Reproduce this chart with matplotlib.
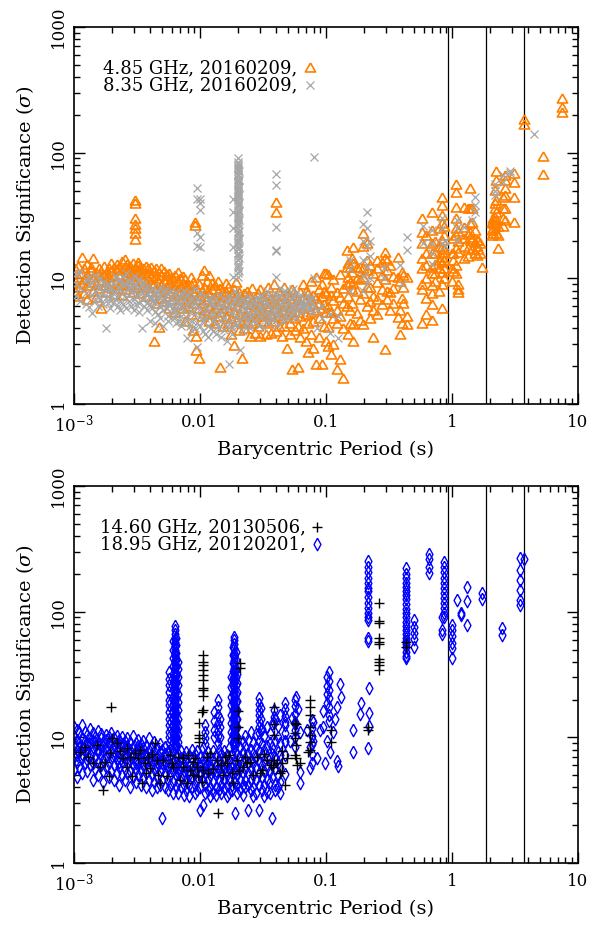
import matplotlib
matplotlib.use("Agg")
import matplotlib.pyplot as plt
from matplotlib.ticker import NullFormatter, LogLocator

plt.rcParams["font.family"] = "DejaVu Serif"
plt.rcParams["mathtext.fontset"] = "dejavuserif"
plt.rcParams["axes.linewidth"] = 1.2

# 磁星の自転周期とその高調波 (s)
HARMONICS = [0.94, 1.88, 3.76]

# ---------------------------------------------------------------
# 4.85 GHz, 20160209 : (周期 s, [検出有意度 sigma, ...])
# ---------------------------------------------------------------
C485_BAND = [
    (0.00102, [9.5, 12.0, 8.0]), (0.00108, [10.3, 8.6, 12.5, 7.2]),
    (0.00115, [11.0, 14.9, 9.2]), (0.00120, [9.8, 12.2, 7.6]),
    (0.00128, [10.8, 6.9, 8.9, 13.0]), (0.00136, [9.4, 11.6, 12.4]),
    (0.00142, [14.5, 10.2, 8.0]), (0.00150, [9.0, 11.2, 7.1]),
    (0.00158, [10.6, 12.0, 8.4]), (0.00165, [5.8, 9.6, 11.5]),
    (0.00172, [10.6, 8.8, 12.6]), (0.00180, [9.4, 11.0, 7.8]),
    (0.00190, [12.0, 10.2, 8.6]), (0.00198, [9.2, 11.4, 13.2]),
    (0.00208, [10.6, 12.4, 8.4, 7.5]), (0.00218, [11.8, 9.6, 13.0]),
    (0.00228, [10.4, 12.2, 8.8]), (0.00240, [11.6, 9.2, 13.8, 7.4]),
    (0.00252, [12.4, 10.0, 8.2, 14.2]), (0.00265, [11.2, 13.0, 9.4, 12.0]),
    (0.00278, [10.4, 12.6, 8.8, 11.6]), (0.00292, [13.2, 11.0, 9.8, 7.8]),
    (0.00305, [12.2, 10.6, 9.0, 11.8]), (0.00320, [10.8, 12.8, 8.6, 13.4]),
    (0.00336, [11.4, 9.6, 12.4, 7.6]), (0.00352, [10.2, 12.0, 8.8, 11.0]),
    (0.00370, [12.6, 9.4, 10.8, 7.2]), (0.00388, [11.0, 8.6, 12.2, 9.8]),
    (0.00407, [10.4, 12.4, 8.0, 9.2]), (0.00428, [11.6, 9.0, 3.2, 7.4]),
    (0.00449, [10.0, 12.0, 8.4, 6.4]), (0.00471, [9.4, 11.2, 7.8, 4.1]),
    (0.00495, [10.6, 8.8, 12.2, 7.0]), (0.00520, [9.6, 11.4, 8.2, 6.6]),
    (0.00546, [10.8, 8.6, 7.2, 9.8]), (0.00573, [9.2, 11.0, 7.6, 5.8]),
    (0.00602, [10.2, 8.4, 6.8, 9.0]), (0.00632, [8.8, 10.6, 7.4, 5.4]),
    (0.00664, [9.6, 8.0, 11.2, 6.2]), (0.00697, [8.6, 10.0, 6.8, 7.6]),
    (0.00732, [9.2, 7.4, 5.8, 10.4]), (0.00768, [8.2, 9.8, 6.6, 4.6]),
    (0.00806, [7.6, 9.0, 6.0, 8.4]), (0.00846, [8.8, 7.0, 10.2, 5.2]),
    (0.00888, [7.8, 9.4, 6.4, 3.9]), (0.00932, [8.4, 6.8, 2.69, 3.5]),
    (0.00978, [7.4, 9.0, 5.8, 2.31]), (0.0103, [8.0, 6.4, 10.6, 5.0]),
    (0.0108, [7.2, 8.6, 5.6, 11.6]), (0.0113, [9.6, 6.8, 5.2, 7.8]),
    (0.0119, [7.6, 10.6, 6.0, 4.6]), (0.0125, [8.2, 6.6, 9.2, 5.4]),
    (0.0131, [7.0, 8.8, 5.8, 4.4]), (0.0138, [7.8, 6.2, 9.6, 5.0]),
    (0.0145, [6.6, 8.4, 5.4, 1.96]), (0.0152, [7.4, 5.8, 8.0, 4.2]),
    (0.0160, [6.4, 7.8, 5.0, 9.2]), (0.0168, [7.0, 5.6, 8.6, 4.4]),
    (0.0176, [6.2, 7.6, 4.8, 3.6]), (0.0185, [6.8, 5.4, 2.95, 8.2]),
    (0.0194, [6.0, 7.2, 4.6, 9.4]), (0.0204, [6.6, 5.2, 7.8, 3.9]),
    (0.0214, [5.8, 7.0, 4.4, 2.31]), (0.0225, [6.4, 5.0, 7.6, 4.0]),
    (0.0236, [5.6, 6.8, 4.6, 8.0]), (0.0248, [6.2, 5.2, 7.2, 3.5]),
    (0.0260, [5.4, 6.6, 4.4, 8.4]), (0.0273, [6.0, 5.0, 7.0, 3.7]),
    (0.0287, [5.6, 6.4, 4.2, 7.6]), (0.0301, [6.2, 5.2, 3.5, 8.2]),
    (0.0316, [5.4, 6.8, 4.6, 7.2]), (0.0332, [6.0, 5.0, 3.6, 6.6]),
    (0.0349, [5.6, 7.4, 4.4, 8.6]), (0.0366, [6.4, 5.2, 3.7, 7.0]),
    (0.0385, [5.8, 6.8, 4.6, 9.0]), (0.0404, [6.2, 5.0, 7.4, 3.8]),
    (0.0424, [5.4, 6.6, 4.2, 8.0]), (0.0445, [6.0, 7.2, 4.8, 3.5]),
    (0.0467, [5.6, 6.4, 8.6, 4.2]), (0.0491, [6.4, 5.2, 2.77, 7.4]),
    (0.0515, [5.8, 7.0, 4.4, 3.6]), (0.0541, [6.6, 5.4, 8.2, 1.9]),
    (0.0568, [6.0, 7.4, 4.8, 3.9]), (0.0596, [5.4, 6.8, 1.96, 4.2]),
    (0.0626, [6.2, 7.8, 5.0, 3.4]), (0.0657, [5.8, 7.0, 4.0, 9.0]),
    (0.0690, [6.6, 5.2, 3.2, 8.0]), (0.0724, [6.0, 7.6, 4.4, 2.6]),
    (0.0760, [6.8, 5.4, 9.6, 3.6]), (0.0798, [6.2, 7.4, 4.6, 2.8]),
    (0.0838, [7.0, 5.6, 10.2, 2.1]), (0.0880, [6.4, 8.2, 4.8, 3.4]),
    (0.0924, [7.2, 5.8, 2.1, 9.0]), (0.0970, [8.0, 6.2, 4.2, 11.0]),
    (0.1006, [7.7, 11.0, 5.4, 3.2]),
]
C485_HIGH = [
    (0.00307, [42.0, 40.0, 30.0, 27.0, 25.0, 23.0, 20.5]),
    (0.00914, [28.2, 26.5]), (0.040, [40.2, 33.6]),
    (0.104, [10.9, 6.0, 4.1, 2.9]), (0.110, [7.4, 5.4, 2.5, 8.6]),
    (0.115, [6.7, 4.8, 3.0, 9.8]), (0.122, [5.6, 7.8, 1.9, 4.4]),
    (0.130, [10.9, 7.1, 5.0, 2.3]), (0.138, [6.4, 8.4, 4.0, 1.62]),
    (0.1466, [16.8, 12.4, 9.0, 6.0]), (0.151, [13.2, 10.3, 7.2, 3.6]),
    (0.156, [12.4, 9.4, 5.6, 4.4]), (0.160, [14.4, 11.2, 8.2, 6.4]),
    (0.1655, [17.9, 13.2, 9.2, 4.3, 3.2]), (0.176, [12.4, 10.0, 8.0, 5.3]),
    (0.187, [12.4, 9.8, 6.8, 4.66]), (0.199, [22.8, 18.0, 12.0, 10.2, 7.6, 4.3]),
    (0.211, [19.0, 14.0, 11.6, 8.6, 6.0]), (0.224, [12.8, 8.6, 6.6, 4.8]),
    (0.239, [11.0, 7.3, 5.6, 3.4]), (0.254, [14.0, 12.0, 9.4, 6.8, 5.2]),
    (0.278, [13.6, 10.6, 8.2, 6.2]), (0.295, [16.3, 14.4, 9.8, 2.72]),
    (0.304, [14.0, 11.6, 8.0, 6.9]), (0.323, [12.8, 7.8, 5.6]),
    (0.344, [10.4, 8.4, 6.4]), (0.376, [14.9, 10.2, 4.9]),
    (0.388, [9.6, 5.6, 3.6]), (0.400, [11.3, 7.0, 4.4]),
    (0.413, [10.6, 8.6, 6.4]), (0.439, [10.3, 4.3, 5.0]),
    (0.58, [30.0, 23.5, 19.0, 14.4, 12.0, 9.1, 8.3, 4.4]),
    (0.62, [22.0, 16.0, 12.8, 10.0, 7.0, 5.2]),
    (0.70, [33.9, 24.2, 19.0, 15.8, 12.4, 10.95, 8.85, 7.6, 6.3, 4.7]),
    (0.74, [20.0, 16.0, 13.0, 11.0, 9.5]), (0.79, [25.0, 18.0, 14.0, 12.0, 8.0]),
    (0.832, [44.6, 38.3, 31.9, 27.4, 20.2, 17.9, 16.3, 14.9, 13.6, 11.3, 9.1, 5.8]),
    (0.86, [26.0, 22.0, 17.0, 14.0, 12.0, 10.0]),
    (1.0, [16.0, 12.0, 9.5]), (1.03, [20.8, 16.0, 14.0, 11.5]),
    (1.075, [56.0, 48.9, 37.2, 30.0, 25.0, 22.1, 17.3, 12.8, 10.95]),
    (1.13, [24.0, 20.0, 16.3, 9.1, 8.3, 7.8]), (1.24, [37.2, 25.8, 21.0, 18.0, 14.5]),
    (1.355, [36.0, 22.4, 17.3, 15.0]), (1.397, [52.0, 36.0, 27.4, 23.5, 21.4]),
    (1.44, [36.0, 28.0, 20.5, 17.0]), (1.53, [24.2, 19.5, 16.0]),
    (1.578, [20.2, 18.0, 15.3]), (1.628, [20.2, 17.0]), (1.678, [19.0, 16.0]),
    (1.73, [12.4]),
    (2.08, [28.2, 24.2, 22.0]), (2.14, [30.0, 27.4, 25.0, 23.0]),
    (2.21, [50.4, 40.0, 36.0, 31.0, 27.0]), (2.25, [71.8, 60.5, 42.0, 33.9, 29.1, 23.0]),
    (2.35, [26.0, 22.0, 17.3]), (2.57, [44.6, 36.0, 30.0, 26.0]),
    (2.65, [66.4, 60.5, 52.0, 46.0, 36.0, 29.1]), (3.1, [68.4, 58.7, 44.6, 28.2]),
    (3.77, [184.0, 168.0]), (5.28, [94.5, 68.0]), (7.48, [270.0, 231.0, 211.0]),
]

# ---------------------------------------------------------------
# 8.35 GHz, 20160209
# ---------------------------------------------------------------
C835_BAND = [
    (0.00104, [9.0, 7.2, 10.8]), (0.00112, [8.4, 11.2, 6.6]),
    (0.00124, [7.6, 9.8, 6.2]), (0.00132, [8.8, 5.9, 10.2]),
    (0.00139, [5.26, 7.4, 9.2]), (0.00147, [8.0, 6.6, 10.6]),
    (0.00155, [7.2, 9.0, 6.0]), (0.00162, [8.4, 6.8, 10.0]),
    (0.00170, [7.6, 6.2, 9.4]), (0.00178, [8.6, 4.0, 7.0]),
    (0.00185, [6.4, 9.0, 7.8]), (0.00194, [7.0, 8.4, 5.8]),
    (0.00203, [9.2, 7.6, 6.4]), (0.00212, [8.0, 6.8, 10.4]),
    (0.00222, [7.4, 9.6, 6.0, 8.6]), (0.00234, [8.2, 6.6, 9.8, 5.6]),
    (0.00246, [7.6, 10.2, 6.2, 8.8]), (0.00258, [9.0, 7.0, 5.8, 11.0]),
    (0.00271, [8.4, 6.6, 9.6, 7.4]), (0.00286, [7.8, 9.4, 6.0, 8.6]),
    (0.00298, [8.8, 6.8, 10.4, 5.6]), (0.00313, [7.2, 9.0, 6.2, 8.0]),
    (0.00329, [8.4, 6.4, 9.8, 5.4]), (0.00345, [7.6, 4.0, 8.8, 6.8]),
    (0.00362, [8.2, 6.0, 9.4, 7.0]), (0.00380, [7.4, 5.6, 8.6, 6.4]),
    (0.00398, [8.0, 6.2, 4.6, 7.2]), (0.00418, [7.0, 5.8, 8.4, 6.6]),
    (0.00439, [7.6, 5.4, 6.4, 4.4]), (0.00461, [6.8, 8.0, 5.2, 7.2]),
    (0.00484, [7.4, 6.0, 4.8, 8.6]), (0.00508, [6.6, 7.8, 5.6, 4.2]),
    (0.00533, [7.2, 5.8, 6.4, 8.2]), (0.00560, [6.4, 7.6, 5.0, 4.6]),
    (0.00588, [7.0, 5.4, 6.2, 8.0]), (0.00617, [6.0, 7.4, 4.8, 5.6]),
    (0.00648, [6.6, 5.2, 7.8, 4.4]), (0.00680, [5.8, 7.0, 4.6, 6.2]),
    (0.00714, [6.4, 5.0, 7.6, 4.2]), (0.00750, [5.6, 6.8, 4.4, 8.0]),
    (0.00787, [6.2, 4.8, 3.33, 7.2]), (0.00827, [5.4, 6.6, 4.2, 7.8]),
    (0.00868, [6.0, 4.6, 7.0, 3.8]), (0.00911, [5.2, 6.4, 4.0, 8.2]),
    (0.00956, [5.8, 4.4, 2.85, 6.8]), (0.0100, [6.6, 5.0, 4.2, 7.6]),
    (0.0105, [5.4, 6.2, 3.8, 4.6]), (0.0110, [6.0, 4.8, 7.2, 3.6]),
    (0.0116, [5.6, 6.8, 4.2, 3.4]), (0.0122, [6.2, 5.0, 4.0, 7.0]),
    (0.0128, [5.2, 6.4, 3.8, 4.6]), (0.0134, [5.8, 4.4, 6.8, 3.6]),
    (0.0141, [6.4, 5.2, 4.0, 7.4]), (0.0148, [5.4, 6.0, 3.4, 4.6]),
    (0.0155, [6.2, 4.8, 7.0, 3.9]), (0.0163, [5.6, 6.6, 4.2, 3.2]),
    (0.0171, [6.0, 4.6, 2.1, 7.2]), (0.0180, [5.2, 6.4, 4.0, 3.6]),
    (0.0189, [5.8, 4.4, 6.8, 8.0]), (0.0198, [6.2, 5.0, 7.4, 4.2]),
    (0.0208, [5.4, 2.7, 6.6, 4.6]), (0.0218, [6.0, 4.8, 7.0, 3.8]),
    (0.0229, [5.6, 6.4, 4.2, 5.0]), (0.0240, [6.2, 4.6, 7.2, 5.4]),
    (0.0252, [5.0, 6.0, 4.0, 6.8]), (0.0265, [5.8, 4.6, 6.6, 5.2]),
    (0.0278, [5.4, 6.4, 4.4, 7.0]), (0.0292, [6.0, 5.0, 4.2, 6.8]),
    (0.0307, [5.6, 6.6, 4.8, 7.4]), (0.0322, [6.2, 5.2, 4.0, 7.0]),
    (0.0338, [5.4, 6.4, 4.6, 8.0]), (0.0355, [6.0, 5.0, 7.2, 4.4]),
    (0.0373, [5.6, 6.8, 4.8]), (0.0392, [6.4, 5.4, 7.6, 4.6]),
    (0.0411, [5.8, 7.0, 5.0, 4.2]), (0.0432, [6.2, 5.2, 7.4, 8.4]),
    (0.0454, [5.6, 6.6, 4.6, 7.8]), (0.0476, [6.0, 5.0, 7.0, 8.0]),
    (0.0500, [5.4, 6.4, 7.4, 4.8]), (0.0525, [6.8, 5.8, 7.8, 5.0]),
    (0.0551, [6.0, 7.2, 5.4, 8.2]), (0.0579, [6.6, 5.6, 7.6, 4.8]),
    (0.0608, [5.8, 7.0, 6.2]), (0.0638, [6.4, 5.4, 7.4]),
    (0.0670, [7.0, 5.8, 6.2]), (0.0704, [6.2, 5.6, 7.4]),
    (0.0739, [5.8, 6.8]), (0.0776, [6.4, 5.4, 7.0]),
    (0.0850, [5.6, 4.0]), (0.0940, [6.0, 4.8]),
    (0.108, [5.2, 3.7]), (0.125, [3.33, 5.0]),
]
C835_HIGH = [
    (0.0094, [52.0, 43.0, 22.9, 18.0]),
    (0.0100, [43.0, 39.5, 34.8, 21.4, 17.8]),
    (0.0183, [43.0, 33.9, 25.0, 17.8, 10.3]),
    (0.0199, [78.0, 66.0, 58.0, 50.0, 44.0, 38.0, 32.0, 27.0, 23.0, 19.0, 15.5, 12.5]),
    (0.0202, [90.0, 85.0, 81.0, 77.0, 74.0, 71.0, 68.0, 65.0, 62.0, 59.0,
              56.0, 54.0, 51.0, 49.0, 47.0, 45.0, 43.0, 41.0, 39.0, 37.0,
              35.0, 33.0, 31.0, 29.5, 28.0, 26.5, 25.0, 23.5, 22.0, 21.0,
              20.0, 19.0, 18.0, 17.0, 16.0, 15.0, 14.0, 13.0, 12.0, 11.0, 10.3]),
    (0.0205, [72.0, 61.0, 53.0, 46.0, 40.0, 34.5, 29.0, 24.0, 20.5, 17.5, 14.5, 11.5]),
    (0.040, [68.0, 55.0, 25.4, 16.8, 16.5, 10.3]),
    (0.0805, [93.0, 10.1, 6.0]),
    (0.155, [11.8, 14.0, 8.0]), (0.199, [27.3, 20.0, 14.0, 10.5, 8.0]),
    (0.211, [33.9, 25.0, 18.0, 12.4, 9.0]), (0.224, [20.0, 15.0, 10.0]),
    (0.29, [12.0, 10.0]), (0.39, [12.8]), (0.40, [9.0]),
    (0.444, [21.4, 16.8]), (0.59, [26.0, 19.0]),
    (0.694, [24.2, 19.0, 15.8, 13.0]), (0.84, [30.0, 25.0, 19.0]),
    (0.88, [20.0, 18.0]), (1.1, [29.1, 25.0, 20.2]), (1.24, [25.8]),
    (1.44, [29.1]), (1.53, [44.6, 38.3, 34.0]), (2.21, [56.0, 50.0, 46.0]),
    (2.57, [66.4, 58.0]), (2.9, [71.8, 68.4]), (4.53, [141.0]),
]

# ---------------------------------------------------------------
# 18.95 GHz, 20120201
# ---------------------------------------------------------------
C1895_BAND = [
    (0.00100, [7.0, 8.8, 10.2, 5.6, 12.0]), (0.00105, [6.4, 8.0, 9.6, 11.4, 7.2, 4.8]),
    (0.00110, [7.6, 9.0, 10.8, 5.8, 8.4]), (0.00116, [6.8, 8.2, 9.8, 12.6, 5.2, 7.4]),
    (0.00122, [7.8, 9.4, 11.0, 6.2, 8.6]), (0.00128, [6.6, 8.0, 10.4, 5.4, 9.0, 7.2]),
    (0.00134, [7.4, 8.8, 11.6, 6.0, 9.8]), (0.00141, [6.2, 7.8, 9.4, 10.8, 4.6, 8.4]),
    (0.00148, [7.0, 8.6, 10.0, 5.6, 9.2]), (0.00155, [6.4, 7.6, 9.0, 11.2, 5.0, 8.0]),
    (0.00163, [7.2, 8.4, 9.8, 6.0, 10.6]), (0.00171, [6.6, 7.8, 9.2, 4.4, 8.6, 5.4]),
    (0.00180, [7.0, 8.2, 9.6, 5.8, 10.4]), (0.00189, [6.2, 7.4, 8.8, 10.0, 4.8, 9.2]),
    (0.00198, [6.8, 8.0, 9.4, 5.4, 10.8]), (0.00208, [6.0, 7.2, 8.6, 9.8, 4.6, 7.8]),
    (0.00218, [6.6, 7.8, 9.0, 5.2, 10.2]), (0.00229, [5.8, 7.0, 8.4, 9.6, 4.2, 6.4]),
    (0.00241, [6.4, 7.6, 8.8, 5.0, 10.0]), (0.00253, [5.6, 6.8, 8.2, 9.4, 4.6, 7.4]),
    (0.00266, [6.2, 7.4, 8.6, 5.2, 9.8]), (0.00279, [5.4, 6.6, 8.0, 9.2, 4.0, 7.2]),
    (0.00293, [6.0, 7.2, 8.4, 4.8, 10.2]), (0.00308, [5.6, 6.6, 7.8, 9.0, 4.4, 6.2]),
    (0.00323, [6.2, 7.4, 8.6, 5.0, 9.6]), (0.00339, [5.4, 6.4, 7.6, 8.8, 4.2, 7.0]),
    (0.00356, [6.0, 7.0, 8.2, 4.8, 9.4]), (0.00374, [5.2, 6.2, 7.4, 8.6, 4.0, 6.8]),
    (0.00393, [5.8, 6.8, 8.0, 4.6, 9.8]), (0.00413, [5.0, 6.0, 7.2, 8.4, 3.8, 6.6]),
    (0.00434, [5.6, 6.6, 7.8, 4.4, 9.2]), (0.00456, [4.8, 5.8, 7.0, 8.2, 4.0, 6.4]),
    (0.00479, [5.4, 6.4, 7.6, 4.2, 8.8]), (0.00503, [4.6, 5.6, 6.8, 8.0, 2.3, 6.2]),
    (0.00528, [5.2, 6.2, 7.4, 4.0, 8.4]), (0.00555, [4.6, 5.6, 6.6, 7.8, 3.8, 6.0]),
    (0.00583, [5.0, 6.0, 7.2, 4.2, 8.0]), (0.00612, [4.4, 5.4, 6.4, 7.6, 3.6]),
    (0.00643, [5.0, 5.8, 7.0, 4.0, 6.2]), (0.00675, [4.4, 5.2, 6.2, 7.4, 3.6, 5.6]),
    (0.00709, [4.8, 5.8, 6.8, 4.0, 7.8]), (0.00745, [4.2, 5.0, 6.0, 7.0, 3.5, 5.4]),
    (0.00782, [4.6, 5.6, 6.6, 3.8, 7.6]), (0.00822, [4.2, 5.0, 6.0, 7.2, 3.4, 5.4]),
    (0.00863, [4.8, 5.8, 6.8, 4.0, 8.0]), (0.00906, [4.2, 5.2, 6.2, 7.4, 3.6, 5.6]),
    (0.00952, [4.6, 5.6, 6.6, 3.8, 7.8]), (0.0100, [4.0, 5.0, 6.0, 7.0, 2.64, 5.4]),
    (0.0105, [4.6, 5.6, 6.6, 2.9, 8.2]), (0.0110, [4.2, 5.2, 6.2, 7.2, 3.6, 5.8]),
    (0.0116, [4.6, 5.4, 6.4, 3.8, 7.6]), (0.0121, [4.0, 5.0, 6.0, 7.0, 3.4, 5.6]),
    (0.0127, [4.4, 5.4, 6.6, 3.7, 7.8]), (0.0134, [4.0, 5.0, 6.0, 7.2, 3.5, 5.4]),
    (0.0141, [4.6, 5.6, 6.6, 3.8, 8.0]), (0.0148, [4.2, 5.2, 6.2, 7.4, 3.6, 5.8]),
    (0.0155, [4.6, 5.6, 6.8, 3.9, 7.8]), (0.0163, [4.2, 5.0, 6.0, 7.2, 3.4, 5.4]),
    (0.0171, [4.6, 5.6, 6.6, 3.6, 8.2]), (0.0180, [4.2, 5.2, 6.2, 7.4, 3.8, 5.8]),
    (0.0189, [4.4, 5.4, 6.4, 2.5, 7.6]), (0.0198, [4.2, 5.0, 6.0, 7.2, 3.6, 5.6]),
    (0.0208, [4.6, 5.6, 6.8, 3.8, 8.4]), (0.0219, [4.2, 5.2, 6.4, 7.6, 3.5, 9.2]),
    (0.0230, [4.6, 5.6, 6.8, 4.0, 8.6, 10.2]), (0.0241, [4.2, 5.2, 6.2, 7.4, 2.64, 9.6]),
    (0.0253, [4.6, 5.6, 6.6, 8.0, 3.8, 11.0]), (0.0266, [4.0, 5.0, 6.2, 7.4, 3.4, 9.0]),
    (0.0280, [4.6, 5.8, 7.0, 8.4, 3.6, 10.6]), (0.0294, [4.2, 5.2, 6.4, 7.8, 2.64, 9.4]),
    (0.0309, [4.8, 6.0, 7.2, 8.8, 3.8, 11.6]), (0.0324, [4.2, 5.4, 6.6, 8.0, 3.4, 10.2]),
    (0.0341, [4.6, 5.8, 7.0, 8.6, 3.7, 12.0]), (0.0358, [4.4, 5.4, 6.8, 9.0, 3.6, 10.8]),
    (0.0376, [4.8, 6.0, 7.4, 8.4, 2.3, 12.8]), (0.0395, [4.2, 5.6, 7.0, 9.4, 3.8, 14.0]),
    (0.0415, [5.0, 6.2, 7.6, 10.0, 4.0, 12.2]), (0.0436, [4.4, 5.8, 7.2, 9.0, 3.6, 15.0]),
    (0.047, [18.9, 13.3, 9.4, 7.2, 5.1]), (0.052, [9.4]), (0.054, [14.2]),
    (0.057, [12.8]), (0.058, [21.0]), (0.060, [16.7]),
    (0.0622, [11.0, 5.3, 4.3]), (0.071, [11.4]), (0.075, [8.4, 5.7]),
    (0.0797, [13.3, 9.4]), (0.085, [6.9]), (0.090, [11.4]),
    (0.0955, [16.3, 12.0]), (0.099, [6.3]),
    (0.1016, [30.4, 25.8, 22.2, 18.9, 9.4]), (0.108, [7.7]),
    (0.115, [11.0]), (0.118, [14.0]), (0.122, [6.5]), (0.123, [17.5]),
    (0.126, [5.9]), (0.13, [26.8]), (0.131, [21.0]),
    (0.165, [11.4, 7.7]), (0.186, [15.4]), (0.19, [18.6]),
    (0.215, [8.2]), (0.22, [24.5, 15.5, 12.2]),
]
C1895_HIGH = [
    (0.0057, [33.0, 29.0, 26.0, 23.0, 20.0, 18.0, 16.0, 14.0, 12.5, 11.0, 10.0, 9.0]),
    (0.0061, [58.0, 50.0, 43.0, 37.0, 32.0, 27.5, 24.0, 21.0, 18.5, 16.0, 14.0, 12.2, 10.6, 9.2]),
    (0.0063, [76.8, 72.0, 66.0, 61.0, 57.0, 53.0, 50.0, 47.0, 44.0, 41.0, 38.5,
              36.0, 34.0, 32.0, 30.0, 28.0, 26.5, 25.0, 23.5, 22.0, 20.5, 19.5,
              18.5, 17.5, 16.5, 15.5, 14.6, 13.8, 13.0, 12.3, 11.6, 11.0, 10.4,
              9.8, 9.2, 8.7, 8.2]),
    (0.0065, [62.0, 54.0, 47.0, 41.0, 36.0, 31.0, 27.0, 23.5, 20.5, 18.0, 15.5,
              13.5, 11.8, 10.2, 8.8]),
    (0.0067, [40.0, 35.0, 30.0, 26.0, 22.0, 19.0, 16.5, 14.0, 12.0, 10.5, 9.2]),
    (0.0110, [12.5, 11.0, 9.8, 8.8]), (0.0130, [16.0, 13.5, 11.5, 10.0]),
    (0.0138, [19.8, 17.5, 15.0, 13.0, 11.5, 10.2, 9.0]), (0.0145, [14.0, 12.0, 10.0]),
    (0.0177, [30.0, 25.0, 21.0, 18.0, 15.0, 13.0, 11.0, 9.5]),
    (0.0183, [52.0, 45.0, 39.0, 34.0, 29.5, 25.5, 22.0, 19.0, 16.5, 14.2, 12.3, 10.6, 9.2]),
    (0.0187, [63.0, 59.0, 55.0, 51.0, 47.0, 44.0, 41.0, 38.0, 35.5, 33.0, 31.0,
              29.0, 27.0, 25.0, 23.5, 22.0, 20.5, 19.0, 18.0, 17.0, 16.0, 15.0,
              14.0, 13.2, 12.4, 11.6, 10.9, 10.2, 9.6, 9.0, 8.4]),
    (0.0192, [48.0, 41.0, 35.0, 30.0, 26.0, 22.0, 19.0, 16.5, 14.0, 12.0, 10.3, 8.9]),
    (0.0196, [32.0, 27.0, 23.0, 19.5, 16.5, 14.0, 12.0, 10.0]),
    (0.0295, [20.4, 18.5, 16.5, 15.0, 13.5, 12.0, 10.8]), (0.0305, [17.0, 14.0, 11.5]),
    (0.0385, [16.5, 14.5, 13.0]), (0.0475, [16.8, 14.8, 12.5, 10.8, 9.2]),
    (0.0565, [19.8, 17.6, 15.4, 13.2, 11.5, 10.0, 8.4]),
    (0.078, [13.7, 11.8, 10.2, 8.8, 7.4, 6.2]),
    (0.105, [33.0, 28.0, 24.0, 20.5, 17.5, 15.0, 13.5]),
    (0.218, [254.0, 227.0, 206.0, 187.0, 170.0, 154.0, 145.0, 132.0, 117.0,
             107.0, 97.0, 91.0, 86.0, 62.0, 58.0]),
    (0.437, [221.0, 200.0, 185.0, 170.0, 158.0, 145.0, 135.0, 125.0, 115.0, 105.0,
             97.0, 90.0, 83.0, 77.0, 72.0, 67.0, 62.0, 58.0, 55.0, 52.0, 48.0, 44.0, 42.5]),
    (0.50, [86.0, 76.0, 68.0, 60.5, 52.0]), (0.66, [290.0, 262.0, 228.0, 203.0]),
    (0.83, [90.0, 71.0, 67.0]),
    (0.873, [248.0, 225.0, 205.0, 185.0, 170.0, 155.0, 140.0, 128.0, 117.0, 107.0, 97.0, 90.0]),
    (1.0, [78.2, 71.4, 63.5, 56.4, 51.5, 42.8]), (1.1, [124.0]), (1.19, [98.0, 94.0]),
    (1.32, [158.0, 122.0, 78.0]), (1.75, [140.0, 127.0]), (2.49, [73.5, 65.0]),
    (3.48, [265.0, 214.0, 178.0, 148.0, 123.0, 112.0]), (3.77, [261.0]),
]

# ---------------------------------------------------------------
# 14.60 GHz, 20130506
# ---------------------------------------------------------------
C1460 = [
    (0.00122, [8.4]), (0.0013, [7.0]), (0.00151, [8.7]), (0.00161, [5.8]),
    (0.00171, [3.8]), (0.00188, [4.9]), (0.00193, [7.45]), (0.00195, [17.5]),
    (0.00199, [9.8]), (0.00218, [8.95]), (0.00247, [6.8]), (0.00262, [5.8]),
    (0.00279, [7.0]), (0.00287, [4.9]), (0.00305, [7.45]), (0.00324, [6.8]),
    (0.00345, [4.3]), (0.00366, [6.2]), (0.00389, [7.0]), (0.00401, [5.7]),
    (0.0044, [8.95]), (0.00454, [6.6]), (0.00468, [5.0]), (0.00483, [4.3]),
    (0.00545, [4.9]), (0.00579, [7.2]), (0.00615, [5.8]), (0.00674, [7.0]),
    (0.00695, [4.6]), (0.00738, [5.8]), (0.00785, [4.3]), (0.00834, [5.5]),
    (0.00887, [6.4]), (0.00942, [5.8]), (0.00971, [4.9]), (0.0103, [4.4]),
    (0.0106, [5.5]), (0.0113, [7.0]), (0.0120, [7.45]), (0.0136, [6.6]),
    (0.0140, [2.5]), (0.0153, [5.0]), (0.0163, [6.2]), (0.0179, [5.2]),
    (0.0184, [4.3]), (0.0196, [6.6]), (0.0221, [5.8]), (0.0228, [7.0]),
    (0.0282, [7.0]), (0.030, [5.2]), (0.031, [5.5]), (0.0383, [5.8]),
    (0.0407, [6.2]), (0.0433, [5.2]), (0.0474, [4.2]), (0.0489, [6.8]),
    (0.0587, [6.0]), (0.0624, [6.2]), (0.0726, [7.7]),
    (0.00142, [6.2]), (0.00232, [7.8]), (0.00335, [8.0]), (0.00512, [6.6]),
    (0.00730, [6.8]), (0.0088, [5.0]), (0.0128, [5.6]), (0.0170, [7.2]),
    (0.0250, [6.4]), (0.0340, [6.6]),
    (0.00112, [7.6]), (0.00176, [6.4]), (0.00265, [8.2]), (0.00372, [5.2]),
    (0.00420, [7.4]), (0.00600, [6.2]), (0.00800, [7.2]), (0.0092, [6.8]),
    (0.0116, [5.2]), (0.0148, [6.0]), (0.0158, [7.0]), (0.0205, [5.4]),
    (0.0235, [6.2]), (0.0265, [5.0]), (0.0320, [7.4]), (0.0365, [6.0]),
    (0.0106, [45.0, 40.0, 37.6, 34.2, 31.3, 28.5, 24.9, 23.8, 21.3, 16.5]),
    (0.0099, [12.9, 10.4, 9.8, 9.2]), (0.0103, [16.0]),
    (0.0210, [39.0, 35.5]), (0.0201, [16.1, 12.1, 9.8]),
    (0.039, [17.5, 12.7, 10.4, 6.6]), (0.045, [7.8, 6.2, 5.4]),
    (0.057, [13.0, 10.8, 9.8, 7.3]), (0.058, [12.7, 8.7, 6.8]),
    (0.0748, [19.8, 17.5, 15.0, 12.1, 10.4, 9.2, 8.0]),
    (0.11, [11.4, 9.1]), (0.215, [12.0, 11.4]),
    (0.262, [118.0, 84.0, 81.0, 61.6, 57.6, 55.0, 42.3, 39.8, 37.5, 34.2]),
    (0.43, [57.6, 52.6]),
]

# マーカー形状（正三角形・縦長ひし形）
TRI = [(0, 1), (-1.15, -1), (1.15, -1), (0, 1)]
DIA = [(0, 1), (0.55, 0), (0, -1), (-0.55, 0), (0, 1)]

ORANGE = "#ff8000"
GREY = "#a6a6a6"
BLUE = "#0000ff"

STYLE_485 = dict(marker=TRI, ms=7.4, mfc="none", mec=ORANGE, mew=1.2, ls="none")
STYLE_835 = dict(marker="x", ms=5.6, mec=GREY, mew=0.9, ls="none")
STYLE_1895 = dict(marker=DIA, ms=9.0, mfc="none", mec=BLUE, mew=1.0, ls="none")
STYLE_1460 = dict(marker="+", ms=7.0, mec="black", mew=1.0, ls="none")

FS_TICK = 12
FS_LABEL = 14
FS_KEY = 13


def expand(cols):
    """(周期, [sigma...]) の並びを x, y の2本のリストに展開する"""
    xs, ys = [], []
    for period, sigmas in cols:
        xs += [period] * len(sigmas)
        ys += list(sigmas)
    return xs, ys


def setup_axes(ax):
    ax.set_xscale("log")
    ax.set_yscale("log")
    ax.set_xlim(1e-3, 10)
    ax.set_ylim(1, 1000)
    ax.set_xticks([1e-3, 1e-2, 1e-1, 1, 10])
    ax.set_xticklabels(["10$^{-3}$", "0.01", "0.1", "1", "10"])
    ax.set_yticks([1, 10, 100, 1000])
    ax.set_yticklabels(["1", "10", "100", "1000"], rotation=90, va="center")
    ax.xaxis.set_minor_locator(LogLocator(base=10, subs=range(2, 10)))
    ax.yaxis.set_minor_locator(LogLocator(base=10, subs=range(2, 10)))
    ax.xaxis.set_minor_formatter(NullFormatter())
    ax.yaxis.set_minor_formatter(NullFormatter())
    ax.tick_params(which="both", direction="in", top=True, right=True,
                   labelsize=FS_TICK, width=1.0)
    ax.tick_params(which="major", length=8)
    ax.tick_params(which="minor", length=4)
    ax.tick_params(axis="x", pad=7)
    ax.tick_params(axis="y", pad=5)
    for p in HARMONICS:
        ax.axvline(p, color="black", lw=0.9, zorder=1)
    ax.set_xlabel("Barycentric Period (s)", fontsize=FS_LABEL)
    ax.set_ylabel("Detection Significance ($\\sigma$)", fontsize=FS_LABEL, va="center")
    ax.xaxis.set_label_coords(0.5, -0.098)
    ax.yaxis.set_label_coords(-0.097, 0.5)


fig = plt.figure(figsize=(6.07, 9.25), dpi=100)
ax1 = fig.add_axes([0.1219, 0.5632, 0.8298, 0.4076])
ax2 = fig.add_axes([0.1219, 0.0670, 0.8298, 0.4076])

# 上段：4.85 GHz と 8.35 GHz
setup_axes(ax1)
ax1.plot(*expand(C485_BAND + C485_HIGH), zorder=2, **STYLE_485)
ax1.plot(*expand(C835_BAND + C835_HIGH), zorder=3, **STYLE_835)
ax1.text(0.0576, 0.891, "4.85 GHz, 20160209,", transform=ax1.transAxes,
         fontsize=FS_KEY, va="center")
ax1.text(0.0576, 0.846, "8.35 GHz, 20160209,", transform=ax1.transAxes,
         fontsize=FS_KEY, va="center")
ax1.plot([0.468], [0.893], transform=ax1.transAxes, **STYLE_485)
ax1.plot([0.468], [0.846], transform=ax1.transAxes, **STYLE_835)

# 下段：14.60 GHz と 18.95 GHz
setup_axes(ax2)
ax2.plot(*expand(C1895_BAND + C1895_HIGH), zorder=2, **STYLE_1895)
ax2.plot(*expand(C1460), zorder=3, **STYLE_1460)
ax2.text(0.0516, 0.891, "14.60 GHz, 20130506,", transform=ax2.transAxes,
         fontsize=FS_KEY, va="center")
ax2.text(0.0516, 0.846, "18.95 GHz, 20120201,", transform=ax2.transAxes,
         fontsize=FS_KEY, va="center")
ax2.plot([0.482], [0.891], transform=ax2.transAxes, **STYLE_1460)
ax2.plot([0.482], [0.846], transform=ax2.transAxes, **STYLE_1895)

fig.savefig("out.png", dpi=100)
plt.close(fig)
